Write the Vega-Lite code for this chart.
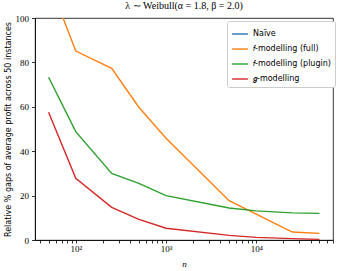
{
  "$schema": "https://vega.github.io/schema/vega-lite/v6.json",
  "width": 298,
  "height": 222,
  "autosize": {"type": "none"},
  "padding": {"left": 35, "top": 18, "right": 6, "bottom": 31},
  "background": "white",
  "title": {"text": "λ ∼ Weibull(α = 1.8, β = 2.0)", "font": "Liberation Serif", "fontSize": 10, "fontWeight": "normal", "color": "black", "anchor": "middle", "offset": 3},
  "config": {
    "view": {"stroke": "black", "strokeWidth": 0.8},
    "axis": {"grid": false, "domainColor": "black", "tickColor": "black", "labelColor": "black", "titleColor": "black", "domainWidth": 0.8, "tickWidth": 0.8}
  },
  "data": {"values": [
    {"n": 50, "v": 117, "s": "𝑓-modelling (full)"},
    {"n": 100, "v": 85.1, "s": "𝑓-modelling (full)"},
    {"n": 250, "v": 77.3, "s": "𝑓-modelling (full)"},
    {"n": 500, "v": 59.8, "s": "𝑓-modelling (full)"},
    {"n": 1000, "v": 45.8, "s": "𝑓-modelling (full)"},
    {"n": 5000, "v": 17.7, "s": "𝑓-modelling (full)"},
    {"n": 25000, "v": 3.6, "s": "𝑓-modelling (full)"},
    {"n": 50000, "v": 3.0, "s": "𝑓-modelling (full)"},
    {"n": 50, "v": 73.3, "s": "𝑓-modelling (plugin)"},
    {"n": 100, "v": 48.8, "s": "𝑓-modelling (plugin)"},
    {"n": 250, "v": 30.0, "s": "𝑓-modelling (plugin)"},
    {"n": 500, "v": 25.5, "s": "𝑓-modelling (plugin)"},
    {"n": 1000, "v": 20.0, "s": "𝑓-modelling (plugin)"},
    {"n": 5000, "v": 14.4, "s": "𝑓-modelling (plugin)"},
    {"n": 10000, "v": 13.1, "s": "𝑓-modelling (plugin)"},
    {"n": 25000, "v": 12.2, "s": "𝑓-modelling (plugin)"},
    {"n": 50000, "v": 12.0, "s": "𝑓-modelling (plugin)"},
    {"n": 50, "v": 57.5, "s": "𝑔-modelling"},
    {"n": 100, "v": 27.8, "s": "𝑔-modelling"},
    {"n": 250, "v": 14.7, "s": "𝑔-modelling"},
    {"n": 500, "v": 9.3, "s": "𝑔-modelling"},
    {"n": 1000, "v": 5.3, "s": "𝑔-modelling"},
    {"n": 5000, "v": 2.1, "s": "𝑔-modelling"},
    {"n": 10000, "v": 1.2, "s": "𝑔-modelling"},
    {"n": 25000, "v": 0.6, "s": "𝑔-modelling"},
    {"n": 50000, "v": 0.3, "s": "𝑔-modelling"}
  ]},
  "mark": {"type": "line", "clip": true, "strokeWidth": 1.4},
  "encoding": {
    "x": {
      "field": "n", "type": "quantitative",
      "scale": {"type": "log", "domain": [35.36, 70711], "nice": false},
      "axis": {
        "title": "n", "titleFont": "Liberation Serif", "titleFontStyle": "italic", "titleFontSize": 9, "titleFontWeight": "normal", "titlePadding": 6,
        "values": [40,50,60,70,80,90,100,200,300,400,500,600,700,800,900,1000,2000,3000,4000,5000,6000,7000,8000,9000,10000,20000,30000,40000,50000,60000,70000],
        "labelExpr": "datum.value == 100 ? '10²' : datum.value == 1000 ? '10³' : datum.value == 10000 ? '10⁴' : ''",
        "labelFont": "Liberation Serif", "labelFontSize": 9, "tickSize": 3, "labelPadding": 1
      }
    },
    "y": {
      "field": "v", "type": "quantitative",
      "scale": {"domain": [0, 100], "nice": false, "zero": true},
      "axis": {
        "title": "Relative % gaps of average profit across 50 instances", "titleFont": "DejaVu Sans", "titleFontSize": 8, "titleFontWeight": "normal", "titlePadding": 3,
        "values": [0, 20, 40, 60, 80, 100],
        "labelFont": "Liberation Serif", "labelFontSize": 9, "tickSize": 3.5, "labelPadding": 3
      }
    },
    "color": {
      "field": "s", "type": "nominal",
      "scale": {"domain": ["Naïve", "𝑓-modelling (full)", "𝑓-modelling (plugin)", "𝑔-modelling"], "range": ["#1f77b4", "#ff7f0e", "#2ca02c", "#d62728"]},
      "legend": {
        "title": null, "orient": "none", "legendX": 192, "legendY": 3,
        "symbolType": "stroke", "symbolSize": 250, "symbolStrokeWidth": 1.4,
        "labelFont": "DejaVu Sans", "labelFontSize": 8, "labelColor": "black",
        "rowPadding": 2, "padding": 4, "fillColor": "white", "strokeColor": "#cccccc", "cornerRadius": 2,
        "labelLimit": 200
      }
    }
  }
}
